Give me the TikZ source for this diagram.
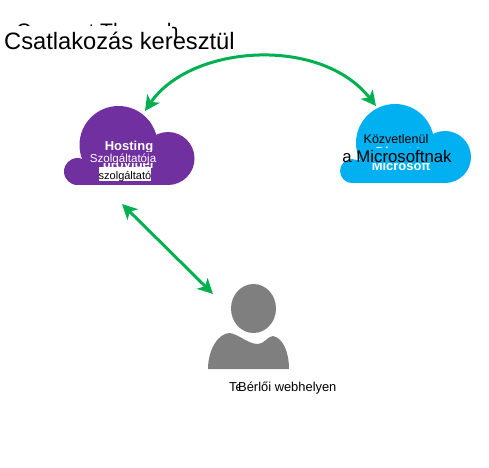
\documentclass[tikz,border=0pt]{standalone}
\usepackage{fontspec}
\setmainfont{Liberation Sans}
\usetikzlibrary{arrows.meta}
\definecolor{cloudpurple}{RGB}{112,48,160}
\definecolor{cloudblue}{RGB}{0,176,240}
\definecolor{linkgreen}{RGB}{0,176,80}
\definecolor{persongray}{RGB}{127,127,127}
\tikzset{
  link/.style={linkgreen,line width=3pt,{Stealth[length=15pt,width=15pt,inset=4pt]}-{Stealth[length=15pt,width=15pt,inset=4pt]}},
  lbl/.style={inner sep=0pt,anchor=base},
  hidden/.style={lbl,white,font=\fontsize{13}{13}\selectfont\bfseries}
}
\begin{document}
\begin{tikzpicture}[x=1pt,y=-1pt]
  \useasboundingbox (0,0) rectangle (489,467);

  % title, old text only shows at the top
  \begin{scope}
    \clip (0,0) rectangle (489,25.5) (172,0) rectangle (186,40);
    \node[lbl,anchor=base west,font=\fontsize{21}{21}\selectfont] (oldtitle) at (16,38.5) {Connect Through};
  \end{scope}
  \node[lbl,anchor=base west,font=\fontsize{23.7}{23.7}\selectfont] (title) at (4,49) {Csatlakozás keresztül};

  % purple cloud
  \fill[cloudpurple] (118.5,145) circle (39);
  \fill[cloudpurple] (168,158.5) circle (26.5);
  \fill[cloudpurple] (77.5,171.5) circle (13.5);
  \fill[cloudpurple] (77.5,160) rectangle (168,185);
  \begin{scope}
    \clip (90,140) rectangle (170,151) (90,163) rectangle (170,168);
    \node[hidden] (hosting) at (129,150) {Hosting};
    \node[hidden] (provider) at (129,168) {provider};
  \end{scope}
  \node[lbl,white,font=\fontsize{11.6}{11.6}\selectfont] (hostlabel) at (123,162) {Szolgáltatója};
  \fill[white] (99,167) rectangle (151,181);
  \node[lbl,font=\fontsize{11}{11}\selectfont] (hostsub) at (125,179) {szolgáltató};

  % blue cloud
  \fill[cloudblue] (395,143) circle (39);
  \fill[cloudblue] (445,157) circle (26);
  \fill[cloudblue] (352,171) circle (12);
  \fill[cloudblue] (352,160) rectangle (445,183);
  \begin{scope}
    \clip (360,145) rectangle (440,147.5) (360,163) rectangle (440,172);
    \node[hidden] (direct) at (402,156) {Direct to};
    \node[hidden] (microsoft) at (401,170) {Microsoft};
  \end{scope}
  \node[lbl,font=\fontsize{12.5}{12.5}\selectfont] (directlabel) at (396,143) {Közvetlenül};
  \node[lbl,font=\fontsize{16.8}{16.8}\selectfont] (mslabel) at (397,162) {a Microsoftnak};

  % person
  \fill[persongray] (253.5,308.5) ellipse (22.5 and 24.5);
  \fill[persongray] (208,369) .. controls (208,350) and (218,333) .. (230,333)
    .. controls (240,335) and (248,344) .. (258,344)
    .. controls (264,344) and (268,336) .. (273,336)
    .. controls (283,338) and (289,352) .. (289,369) -- cycle;
  \begin{scope}
    \clip (220,375) rectangle (238.5,395);
    \node[lbl,anchor=base west,font=\fontsize{12.9}{12.9}\selectfont] (oldsite) at (229,391) {Tenant site};
  \end{scope}
  \node[lbl,anchor=base west,font=\fontsize{12.9}{12.9}\selectfont] (site) at (238,391) {Bérlői webhelyen};

  % connections
  \coordinate (hostup) at (145,111);
  \coordinate (msup) at (376,106);
  \coordinate (hostdown) at (122,204);
  \coordinate (tenantup) at (213,294);
  \draw[link] (hostup) .. controls (190,45) and (320,35) .. (msup);
  \draw[link] (hostdown) -- (tenantup);
\end{tikzpicture}
\end{document}
